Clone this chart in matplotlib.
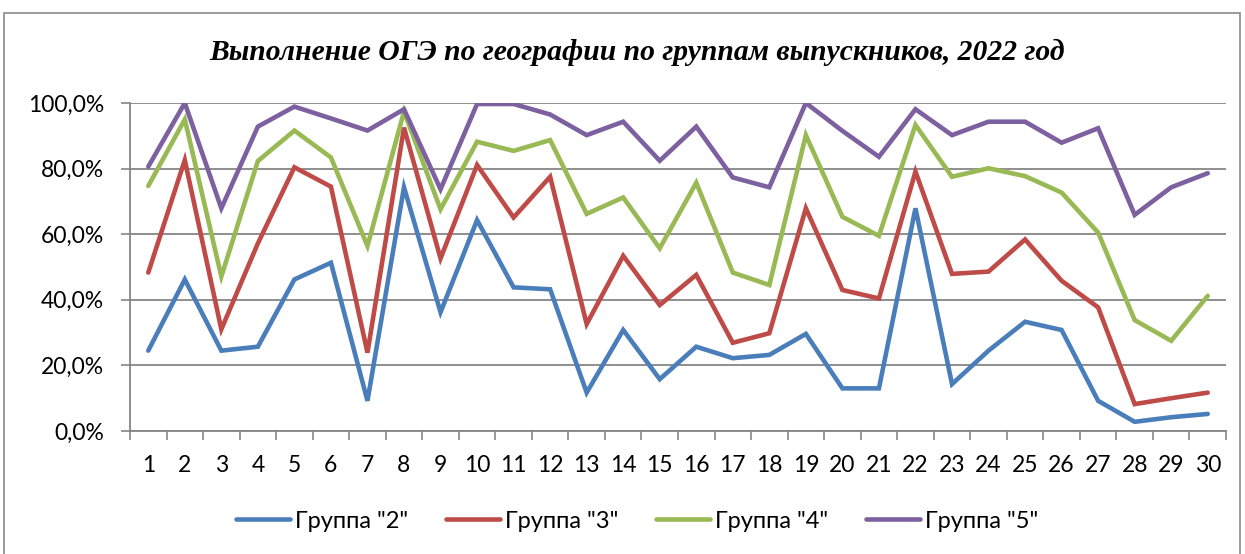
import matplotlib
matplotlib.use("Agg")
import matplotlib.pyplot as plt
from matplotlib.ticker import FuncFormatter, FixedLocator
from matplotlib.patches import Rectangle

plt.rcParams['font.family'] = ['Lato', 'DejaVu Sans']

# номера ОО / позиции по оси X
categories = list(range(1, 31))

group2 = [24.5, 46.2, 24.5, 25.7, 46.2, 51.3, 9.2, 74.3, 36.2, 64.3,
          43.8, 43.2, 11.7, 30.8, 15.8, 25.7, 22.2, 23.2, 29.6, 13.0,
          13.0, 67.9, 14.3, 24.5, 33.3, 30.8, 9.2, 2.8, 4.2, 5.2]
group3 = [48.3, 82.6, 31.0, 57.2, 80.4, 74.5, 23.9, 92.5, 52.6, 81.1,
          65.1, 77.5, 32.6, 53.4, 38.4, 47.6, 26.9, 29.8, 67.9, 43.0,
          40.4, 79.1, 47.9, 48.6, 58.4, 45.8, 37.7, 8.2, 10.0, 11.7]
group4 = [74.7, 95.0, 47.1, 82.3, 91.6, 83.4, 56.4, 97.4, 67.6, 88.2,
          85.4, 88.7, 66.2, 71.2, 55.7, 75.7, 48.3, 44.5, 90.2, 65.3,
          59.5, 93.3, 77.5, 80.1, 77.7, 72.7, 60.5, 33.8, 27.5, 41.2]
group5 = [80.6, 100.0, 67.9, 92.8, 98.9, 95.3, 91.6, 98.1, 73.7, 99.7,
          99.7, 96.5, 90.2, 94.3, 82.4, 92.8, 77.3, 74.3, 100.0, 91.5,
          83.6, 98.1, 90.2, 94.3, 94.3, 87.9, 92.3, 65.9, 74.3, 78.6]

labels = ['Группа "2"', 'Группа "3"', 'Группа "4"', 'Группа "5"']
colors = ['#4a7ebb', '#be4b48', '#98b954', '#7d60a0']
title = 'Выполнение ОГЭ по географии по группам выпускников, 2022 год'

fig = plt.figure(figsize=(12.45, 5.54), dpi=100)
W, H = 1245, 554
ax = fig.add_axes([130 / W, 1 - 431 / H, 1096 / W, 328 / H])

for vals, lab, col in zip([group2, group3, group4, group5], labels, colors):
    ax.plot(categories, [v / 100 for v in vals], color=col, lw=3.3,
            label=lab, solid_capstyle='round', solid_joinstyle='miter', zorder=3)

ax.set_xlim(0.5, 30.5)
ax.set_ylim(0, 1.0)
ax.set_yticks([0, 0.2, 0.4, 0.6, 0.8, 1.0])
ax.yaxis.set_major_formatter(FuncFormatter(lambda v, p: ('%.1f%%' % (v * 100)).replace('.', ',')))
ax.set_xticks(categories)
ax.set_xticklabels([str(c) for c in categories])
ax.xaxis.set_minor_locator(FixedLocator([i + 0.5 for i in range(0, 31)]))
ax.tick_params(axis='x', which='major', length=0, pad=17, labelsize=16.5)
ax.tick_params(axis='x', which='minor', length=6.5, width=1.2, color='#868686')
ax.tick_params(axis='y', which='major', length=6.5, width=1.2, color='#868686', labelsize=16.5, pad=12)

ax.grid(axis='y', color='#868686', lw=1.3, zorder=0)
for s in ['top', 'right']:
    ax.spines[s].set_visible(False)
for s in ['left', 'bottom']:
    ax.spines[s].set_color('#868686')
    ax.spines[s].set_linewidth(1.3)

fig.text(637 / W, 1 - 52 / H, title, ha='center', va='center',
         family='Liberation Serif', style='italic', weight='bold', fontsize=21.3)

ax.legend(loc='center', bbox_to_anchor=(637 / W, 1 - 521 / H), bbox_transform=fig.transFigure,
          ncol=4, frameon=False, fontsize=17, handlelength=2.3, handletextpad=0.2,
          columnspacing=1.6)

fig.patches.append(Rectangle((4 / W, -0.05), 1236 / W, 1 - 13 / H + 0.05,
                             transform=fig.transFigure, fill=False,
                             edgecolor='#8a8a8a', lw=1.2))

fig.savefig('out.png', dpi=100)
